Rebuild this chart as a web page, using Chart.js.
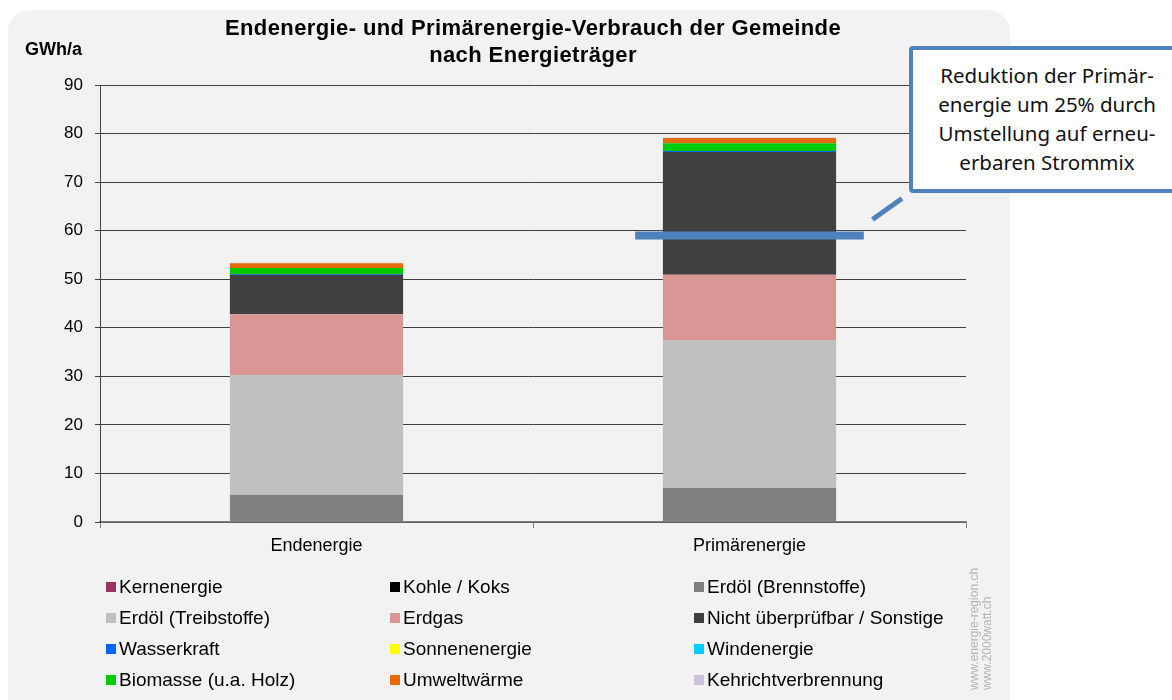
<!DOCTYPE html>
<html lang="de">
<head>
<meta charset="utf-8">
<title>Endenergie- und Primärenergie-Verbrauch</title>
<script src="https://cdn.jsdelivr.net/npm/chart.js@4.4.1/dist/chart.umd.min.js"></script>
<style>
    html, body { margin: 0; padding: 0; background: #fff; }
    #wrap { position: relative; width: 1172px; height: 700px; overflow: hidden; }
    #callout {
        position: absolute; left: 909px; top: 46px; width: 276px; height: 147px;
        box-sizing: border-box; border: 4px solid #4f81bd; border-radius: 4px; background: #fff;
        font-family: "Noto Sans", "Open Sans", sans-serif; font-size: 20.5px; line-height: 29px;
        text-align: center; padding-top: 11px; color: #111; white-space: nowrap;
    }
</style>
</head>
<body>
<div id="wrap">
    <canvas id="energyChart" width="1172" height="700"></canvas>
    <div id="callout">Reduktion der Primär-<br>energie um 25% durch<br>Umstellung auf erneu-<br>erbaren Strommix</div>
</div>
<script>
// Kategorien und Werte (GWh/a)
const categories = ['Endenergie', 'Primärenergie'];

const kernenergie       = [0, 0];
const kohleKoks         = [0, 0];
const erdoelBrennstoffe = [5.6, 7.0];
const erdoelTreibstoffe = [24.7, 30.5];
const erdgas            = [12.5, 13.4];
const nichtUeberpruefbar = [8.1, 25.3];
const wasserkraft       = [0.2, 0.2];
const sonnenenergie     = [0, 0];
const windenergie       = [0, 0];
const biomasse          = [1.2, 1.6];
const umweltwaerme      = [1.0, 1.1];
const kehricht          = [0.1, 0.1];

const seriesNames = [
    'Kernenergie', 'Kohle / Koks', 'Erdöl (Brennstoffe)',
    'Erdöl (Treibstoffe)', 'Erdgas', 'Nicht überprüfbar / Sonstige',
    'Wasserkraft', 'Sonnenenergie', 'Windenergie',
    'Biomasse (u.a. Holz)', 'Umweltwärme', 'Kehrichtverbrennung'
];
const seriesValues = [
    kernenergie, kohleKoks, erdoelBrennstoffe,
    erdoelTreibstoffe, erdgas, nichtUeberpruefbar,
    wasserkraft, sonnenenergie, windenergie,
    biomasse, umweltwaerme, kehricht
];
const seriesColors = [
    '#993366', '#000000', '#808080',
    '#c0c0c0', '#d99694', '#404040',
    '#0066ff', '#ffff00', '#00ccff',
    '#00cc00', '#e46c0a', '#ccc1da'
];

const yTicks = { min: 0, max: 90, step: 10 };
const reductionLevel = 59; // Markierung der reduzierten Primärenergie

const FONT = '"Liberation Sans", Arial, sans-serif';
const ACCENT = '#4f81bd';

// Hintergrund, Titel, Legende, Markierung
const decorPlugin = {
    id: 'decor',
    beforeDraw(chart) {
        const ctx = chart.ctx;
        ctx.save();
        ctx.fillStyle = '#fff';
        ctx.fillRect(0, 0, chart.width, chart.height);
        ctx.fillStyle = '#f2f2f2';
        ctx.beginPath();
        ctx.roundRect(8, 10, 1002, 720, 22);
        ctx.fill();
        ctx.restore();
    },
    afterDatasetsDraw(chart) {
        const ctx = chart.ctx;
        const y = chart.scales.y.getPixelForValue(reductionLevel);
        const bar = chart.getDatasetMeta(0).data[1];
        ctx.save();
        ctx.fillStyle = ACCENT;
        ctx.fillRect(bar.x - bar.width * 0.66, y - 4, bar.width * 1.32, 8);
        ctx.strokeStyle = ACCENT;
        ctx.lineWidth = 5;
        ctx.beginPath();
        ctx.moveTo(bar.x + bar.width * 0.71, y - 16);
        ctx.lineTo(bar.x + bar.width * 0.88, y - 37);
        ctx.stroke();
        ctx.restore();
    },
    afterDraw(chart) {
        const ctx = chart.ctx;
        const area = chart.chartArea;
        const cx = (area.left + area.right) / 2;
        ctx.save();
        ctx.fillStyle = '#000';
        ctx.textAlign = 'center';
        ctx.textBaseline = 'middle';
        ctx.font = 'bold 22px ' + FONT;
        ctx.letterSpacing = '0.4px';
        ctx.fillText('Endenergie- und Primärenergie-Verbrauch der Gemeinde', cx, 29);
        ctx.fillText('nach Energieträger', cx, 56);
        ctx.letterSpacing = '0px';

        ctx.textAlign = 'left';
        ctx.font = 'bold 18px ' + FONT;
        ctx.fillText('GWh/a', 25, 50);

        // Legende in drei Spalten
        const colX = [106, 390, 694];
        ctx.font = '19px ' + FONT;
        seriesNames.forEach((name, i) => {
            const x = colX[i % 3];
            const yy = 587 + Math.floor(i / 3) * 31;
            ctx.fillStyle = seriesColors[i];
            ctx.fillRect(x, yy - 5, 10, 10);
            ctx.fillStyle = '#000';
            ctx.fillText(name, x + 13, yy + 1);
        });

        // Quellenhinweis
        ctx.translate(982, 690);
        ctx.rotate(-Math.PI / 2);
        ctx.fillStyle = '#b4b4b4';
        ctx.font = '12px ' + FONT;
        ctx.fillText('www.energie-region.ch', 0, -7);
        ctx.fillText('www.2000watt.ch', 0, 6);
        ctx.restore();
    }
};

new Chart(document.getElementById('energyChart').getContext('2d'), {
    type: 'bar',
    data: {
        labels: categories,
        datasets: seriesNames.map((name, i) => ({
            label: name,
            data: seriesValues[i],
            backgroundColor: seriesColors[i],
            borderWidth: 0,
            barPercentage: 0.4,
            categoryPercentage: 1
        }))
    },
    options: {
        responsive: false,
        animation: false,
        layout: { padding: { left: 10, right: 206, top: 85, bottom: 138 } },
        plugins: {
            legend: { display: false },
            title: { display: false },
            tooltip: { enabled: false }
        },
        scales: {
            x: {
                stacked: true,
                grid: { drawOnChartArea: false, drawTicks: true, tickLength: 6, offset: true, color: '#808080' },
                border: { color: '#808080', width: 1.5 },
                ticks: { color: '#000', font: { family: FONT, size: 18 }, padding: 7 },
                afterFit: s => { s.height = 40; }
            },
            y: {
                stacked: true,
                min: yTicks.min,
                max: yTicks.max,
                ticks: { stepSize: yTicks.step, color: '#000', font: { family: FONT, size: 17 }, padding: 12 },
                grid: { color: '#404040', tickLength: 5 },
                border: { color: '#404040' },
                afterFit: s => { s.width = 90; }
            }
        }
    },
    plugins: [decorPlugin]
});
</script>
</body>
</html>
